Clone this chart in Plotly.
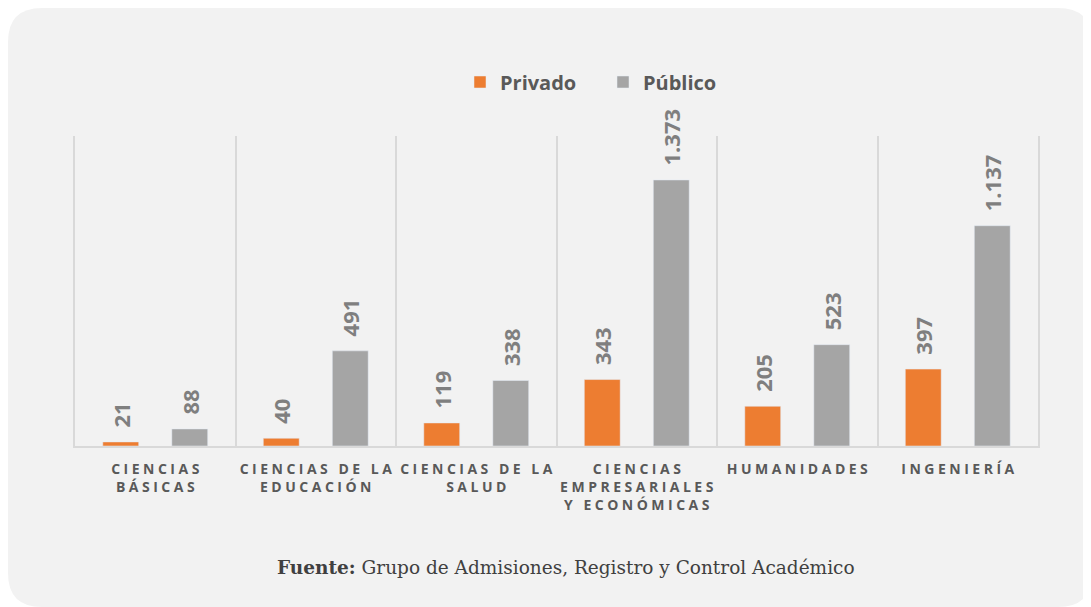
import plotly.graph_objects as go

categories = ["CIENCIAS<br>BÁSICAS", "CIENCIAS DE LA<br>EDUCACIÓN", "CIENCIAS DE LA<br>SALUD",
              "CIENCIAS<br>EMPRESARIALES<br>Y ECONÓMICAS", "HUMANIDADES", "INGENIERÍA"]
privado = [21, 40, 119, 343, 205, 397]
publico = [88, 491, 338, 1373, 523, 1137]

# page has an 8px body margin, so the figure is drawn 8px smaller
W, H = 1083, 599
L, R, T, B = 67, 53, 128, 161


# letter-spaced labels (imitates the wide tracking of the original)
def spaced(label):
    return "<br>".join("\u2005".join(line) for line in label.split("<br>"))


cats = [spaced(c) for c in categories]

fig = go.Figure()
fig.add_trace(go.Bar(name="Privado", x=cats, y=privado, marker_color="#ED7D31"))
fig.add_trace(go.Bar(name="Público", x=cats, y=publico, marker_color="#A5A5A5"))

# leading no-break spaces lift the rotated labels off the bars
fig.update_traces(texttemplate="\u00a0\u00a0%{y:,}", textposition="outside", textangle=-90,
                  cliponaxis=False, constraintext="none",
                  textfont=dict(family="Open Sans", size=22, color="#7F7F7F", weight="bold"))


# rounded grey panel behind everything (figure pixel -> paper coords)
def px(x):
    return (x - L) / (W - L - R)


def py(y):
    return (H - B - y) / (H - T - B)


x0, y0, x1, y1, r = 0, 0, 1084, 599, 34
path = (f"M {px(x0 + r)},{py(y0)} L {px(x1 - r)},{py(y0)} Q {px(x1)},{py(y0)} {px(x1)},{py(y0 + r)} "
        f"L {px(x1)},{py(y1 - r)} Q {px(x1)},{py(y1)} {px(x1 - r)},{py(y1)} "
        f"L {px(x0 + r)},{py(y1)} Q {px(x0)},{py(y1)} {px(x0)},{py(y1 - r)} "
        f"L {px(x0)},{py(y0 + r)} Q {px(x0)},{py(y0)} {px(x0 + r)},{py(y0)} Z")

fig.add_shape(type="path", path=path, xref="paper", yref="paper",
              fillcolor="#F2F2F2", line_width=0, layer="below")

fig.add_annotation(text="<b>Fuente:</b> Grupo de Admisiones, Registro y Control Académico",
                   xref="paper", yref="paper", x=px(558), y=py(572), showarrow=False,
                   font=dict(family="DejaVu Serif", size=18.5, color="#404040"))

fig.update_layout(
    width=W, height=H,
    margin=dict(l=L, r=R, t=T, b=B),
    paper_bgcolor="white", plot_bgcolor="rgba(0,0,0,0)",
    separators=",.",
    barmode="group", bargap=0.14, bargroupgap=0.48,
    legend=dict(orientation="h", x=px(452), xanchor="left", y=py(74), yanchor="middle",
                entrywidth=98, entrywidthmode="pixels",
                font=dict(family="Open Sans", size=20, color="#595959", weight="bold"),
                bgcolor="rgba(0,0,0,0)"),
    showlegend=True,
)

fig.update_xaxes(tickson="boundaries", showgrid=True, gridcolor="#D9D9D9", gridwidth=1.5,
                 showline=True, linecolor="#D9D9D9", linewidth=2, ticks="",
                 tickangle=0, automargin=False, ticklabelstandoff=9,
                 tickfont=dict(family="Open Sans", size=14, color="#595959", weight="bold"))
fig.update_yaxes(range=[0, 1600], showticklabels=False, showgrid=False, zeroline=False,
                 showline=True, mirror=True, linecolor="#D9D9D9", linewidth=1.5, ticks="",
                 automargin=False)

fig.write_html("out.html")
